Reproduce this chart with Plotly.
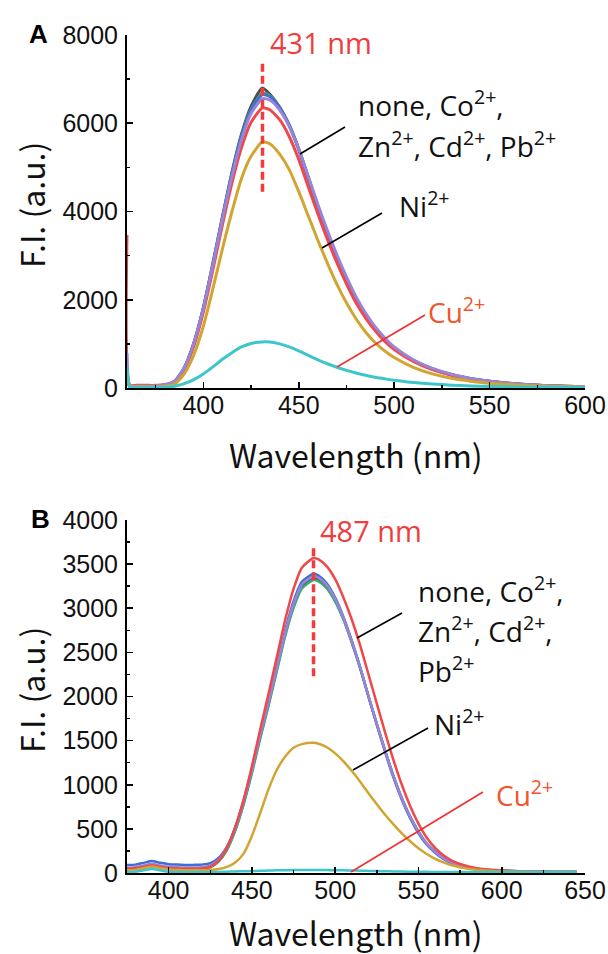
import plotly.graph_objects as go

# ---------------- data ----------------
WL_A = [360, 361.5, 365, 370, 375, 380, 385, 390, 395, 400, 405, 410, 415, 420, 425, 431,
        435, 440, 445, 450, 455, 460, 465, 470, 475, 480, 485, 490, 495, 500, 510, 520,
        530, 540, 550, 560, 570, 580, 590, 600]
GRAY_A = [200, 40, 40, 40, 45, 70, 150, 460, 1020, 1820, 2830, 3880, 4890, 5750, 6380, 6800,
          6650, 6360, 5960, 5410, 4760, 4110, 3510, 2960, 2460, 2010, 1660, 1360, 1110, 905,
          625, 432, 302, 212, 152, 106, 76, 53, 37, 26]
GREEN_A = [150, 35, 35, 35, 40, 65, 145, 445, 990, 1790, 2790, 3840, 4850, 5720, 6320, 6680,
           6620, 6360, 5960, 5420, 4780, 4130, 3530, 2980, 2480, 2030, 1670, 1370, 1120, 915,
           630, 440, 305, 215, 152, 107, 76, 53, 37, 26]
BLUE_A = [250, 40, 40, 40, 45, 70, 150, 450, 1000, 1800, 2800, 3850, 4850, 5700, 6300, 6650,
          6600, 6350, 5950, 5400, 4750, 4100, 3500, 2950, 2450, 2000, 1650, 1350, 1100, 900,
          620, 430, 300, 210, 150, 105, 75, 52, 36, 25]
RED_A = [3470, 60, 60, 60, 60, 80, 150, 430, 950, 1720, 2680, 3700, 4650, 5450, 6020, 6350,
         6300, 6080, 5700, 5180, 4560, 3950, 3370, 2840, 2360, 1930, 1590, 1300, 1060, 870,
         600, 415, 290, 205, 145, 100, 72, 50, 35, 24]
PURPLE_A = [790, 45, 45, 45, 50, 75, 160, 460, 1010, 1800, 2790, 3820, 4800, 5630, 6220, 6560,
            6520, 6300, 5930, 5410, 4790, 4160, 3570, 3020, 2520, 2070, 1700, 1390, 1140, 930,
            640, 445, 310, 218, 155, 108, 77, 54, 37, 26]
NI_A = [300, 30, 30, 30, 30, 40, 90, 320, 750, 1400, 2250, 3150, 4000, 4750, 5250, 5580,
        5530, 5300, 4950, 4450, 3900, 3350, 2830, 2350, 1930, 1570, 1270, 1030, 840, 690,
        470, 320, 220, 155, 110, 78, 55, 40, 28, 20]
CU_A = [500, 15, 10, 10, 10, 15, 40, 100, 190, 320, 480, 650, 800, 930, 1010, 1045,
        1040, 1000, 930, 840, 740, 640, 550, 470, 400, 340, 290, 245, 210, 175,
        125, 90, 65, 48, 36, 28, 22, 17, 13, 10]

WL_B = [375, 380, 385, 390, 395, 400, 405, 410, 415, 420, 425, 430, 435, 440, 445, 450,
        455, 460, 465, 470, 475, 480, 487, 490, 495, 500, 505, 510, 515, 520, 525, 530,
        535, 540, 545, 550, 555, 560, 565, 570, 580, 590, 600, 610, 620, 630, 645]
GREEN_B = [40, 45, 65, 85, 65, 50, 45, 42, 42, 45, 65, 130, 260, 480, 775, 1130, 1525, 1895,
           2290, 2685, 3005, 3225, 3320, 3305, 3225, 3075, 2870, 2610, 2320, 2000, 1690, 1385,
           1100, 850, 640, 470, 335, 245, 170, 118, 64, 38, 26, 19, 15, 12, 10]
GRAY_B = [50, 55, 75, 95, 75, 60, 55, 52, 52, 55, 75, 140, 270, 490, 790, 1150, 1545, 1915,
          2310, 2705, 3025, 3245, 3340, 3325, 3240, 3090, 2880, 2615, 2325, 2000, 1688, 1383,
          1097, 848, 637, 467, 332, 242, 169, 116, 63, 37, 26, 19, 15, 12, 10]
BLUE_B = [90, 95, 115, 135, 115, 100, 95, 92, 92, 95, 110, 170, 300, 520, 820, 1180, 1580, 1950,
          2350, 2750, 3080, 3300, 3390, 3370, 3280, 3120, 2900, 2630, 2330, 2000, 1680, 1370,
          1080, 830, 620, 450, 320, 230, 160, 110, 60, 35, 25, 18, 15, 12, 10]
PURPLE_B = [60, 65, 85, 105, 85, 70, 65, 62, 62, 65, 85, 150, 285, 505, 805, 1165, 1565, 1935,
            2330, 2725, 3050, 3270, 3360, 3345, 3260, 3105, 2890, 2625, 2330, 2005, 1690, 1385,
            1095, 845, 635, 465, 330, 240, 168, 115, 63, 37, 26, 19, 15, 12, 10]
RED_B = [50, 55, 70, 85, 70, 55, 50, 48, 48, 52, 70, 140, 285, 520, 830, 1210, 1630, 2030,
         2450, 2870, 3220, 3460, 3570, 3555, 3475, 3330, 3120, 2870, 2580, 2250, 1920, 1590,
         1280, 1000, 760, 560, 400, 285, 200, 140, 75, 42, 28, 20, 15, 12, 10]
NI_B = [30, 35, 55, 70, 55, 40, 35, 32, 32, 32, 35, 45, 70, 120, 220, 420, 680, 950,
        1170, 1320, 1420, 1460, 1475, 1465, 1425, 1355, 1265, 1155, 1035, 905, 780, 660,
        550, 450, 360, 280, 215, 160, 120, 88, 48, 28, 18, 14, 12, 11, 10]
CU_B = [10, 15, 30, 45, 30, 15, 12, 10, 10, 10, 10, 12, 15, 18, 20, 22, 25, 28,
        30, 32, 33, 34, 35, 34, 33, 32, 30, 28, 26, 24, 22, 20,
        18, 16, 15, 14, 13, 12, 12, 11, 11, 10, 10, 10, 10, 10, 10]

PEAK_A = 431
PEAK_B = 487
X_TICKS_A = [400, 450, 500, 550, 600]
X_TICKS_B = [400, 450, 500, 550, 600, 650]

# ---------------- styling ----------------
C_GRAY, C_GREEN, C_BLUE = "#4d4d4d", "#3aa874", "#3f6fd2"
C_RED, C_PURPLE, C_GOLD, C_CYAN = "#f04848", "#9b84d8", "#d2a431", "#3cc6cc"
RED_TXT, CU_TXT = "#f03c3c", "#f2542c"

W, H = 608, 954
L, R, T, Bm = 127, 23, 35, 81
PW, PH = W - L - R, H - T - Bm


def px(x):
    return (x - L) / PW


def py(y):
    return (T + PH - y) / PH


fig = go.Figure()

series_A = [(GRAY_A, C_GRAY), (GREEN_A, C_GREEN), (BLUE_A, C_BLUE), (RED_A, C_RED),
            (PURPLE_A, C_PURPLE), (NI_A, C_GOLD), (CU_A, C_CYAN)]
for vals, col in series_A:
    fig.add_trace(go.Scatter(x=WL_A, y=vals, mode="lines", xaxis="x", yaxis="y",
                             line=dict(color=col, width=3, shape="spline", smoothing=0.6),
                             showlegend=False, hoverinfo="skip"))

series_B = [(GRAY_B, C_GRAY), (GREEN_B, C_GREEN), (BLUE_B, C_BLUE), (PURPLE_B, C_PURPLE),
            (RED_B, C_RED), (NI_B, C_GOLD), (CU_B, C_CYAN)]
for vals, col in series_B:
    fig.add_trace(go.Scatter(x=WL_B, y=vals, mode="lines", xaxis="x2", yaxis="y2",
                             line=dict(color=col, width=2.5, shape="spline", smoothing=0.6),
                             showlegend=False, hoverinfo="skip"))

tickfont = dict(family="Liberation Sans, Arial, sans-serif", size=25, color="#111")
common_axis = dict(showline=True, linecolor="black", linewidth=2, showgrid=False, zeroline=False,
                   ticks="inside", ticklen=6, tickwidth=1.6, tickcolor="black",
                   tickfont=tickfont, automargin=False)
x_common = dict(common_axis, ticklabelstandoff=-6,
                minor=dict(ticks="inside", ticklen=3, tickwidth=1.4, tickcolor="black", dtick=25))

fig.update_layout(
    template="none",
    width=W, height=H, margin=dict(l=L, r=R, t=T, b=Bm, autoexpand=False),
    paper_bgcolor="white", plot_bgcolor="white", showlegend=False,
    xaxis=dict(x_common, range=[360, 600], tickvals=X_TICKS_A, anchor="y", domain=[0, 1]),
    yaxis=dict(common_axis, range=[0, 8000], dtick=2000, anchor="x",
               domain=[(T + PH - 388) / PH, 1], ticklabelstandoff=2,
               minor=dict(ticks="inside", ticklen=3, tickwidth=1.4, tickcolor="black", dtick=1000)),
    xaxis2=dict(x_common, range=[375, 650], tickvals=X_TICKS_B, anchor="y2", domain=[0, 1]),
    yaxis2=dict(common_axis, range=[0, 4000], dtick=500, anchor="x2",
                domain=[0, (T + PH - 520) / PH], ticklabelstandoff=2,
                minor=dict(ticks="inside", ticklen=3, tickwidth=1.4, tickcolor="black", dtick=250)),
)

# dashed peak markers
fig.add_shape(type="line", xref="x", yref="y", x0=PEAK_A, x1=PEAK_A, y0=4450, y1=7360,
              line=dict(color=RED_TXT, width=3.5, dash="8px,4px"))
fig.add_shape(type="line", xref="x2", yref="y2", x0=PEAK_B, x1=PEAK_B, y0=2230, y1=3690,
              line=dict(color=RED_TXT, width=3.5, dash="8px,4px"))

# leader lines (pixel positions -> paper)
leaders = [
    ((345, 127), (300, 154), "black"),
    ((382, 213), (322, 248), "black"),
    ((425, 315), (337, 367), "#f03030"),
    ((402, 613), (357, 638), "black"),
    ((428, 728), (353, 770), "black"),
    ((483, 792), (351, 872), "#f03030"),
]
for (x0, y0), (x1, y1), col in leaders:
    fig.add_shape(type="line", xref="paper", yref="paper", x0=px(x0), y0=py(y0),
                  x1=px(x1), y1=py(y1), line=dict(color=col, width=1.6))

lab_font = dict(family="Open Sans, Noto Sans, sans-serif", size=28, color="#111")
title_font = dict(family="Noto Sans CJK JP, Noto Sans, sans-serif", size=32, color="#111")


def ann(text, x, y, font, xanchor="center", yanchor="middle", angle=0):
    fig.add_annotation(text=text, xref="paper", yref="paper", x=px(x), y=py(y),
                       xanchor=xanchor, yanchor=yanchor, showarrow=False, font=font,
                       textangle=angle)


bold_font = dict(family="Liberation Sans, Arial, sans-serif", size=26, color="black")
ann("<b>A</b>", 38, 34, bold_font)
ann("<b>B</b>", 40, 519, bold_font)

ann("Wavelength (nm)", 355.5, 454, title_font)
ann("Wavelength (nm)", 355.5, 932, title_font)
ann("F.I. (a.u.)", 31, 205, title_font, angle=-90)
ann("F.I. (a.u.)", 31, 690, title_font, angle=-90)

red_font = dict(family="Open Sans, Noto Sans, sans-serif", size=29, color=RED_TXT)
ann("431 nm", 321, 43, red_font)
ann("487 nm", 371, 530, red_font)

ann("none, Co<sup>2+</sup>,", 356, 104, lab_font, xanchor="left")
ann("Zn<sup>2+</sup>, Cd<sup>2+</sup>, Pb<sup>2+</sup>", 356, 144, lab_font, xanchor="left")
ann("Ni<sup>2+</sup>", 397, 204, lab_font, xanchor="left")
ann("Cu<sup>2+</sup>", 426, 311, dict(lab_font, color=CU_TXT), xanchor="left")

ann("none, Co<sup>2+</sup>,", 416, 589, lab_font, xanchor="left")
ann("Zn<sup>2+</sup>, Cd<sup>2+</sup>,", 416, 629, lab_font, xanchor="left")
ann("Pb<sup>2+</sup>", 416, 669, lab_font, xanchor="left")
ann("Ni<sup>2+</sup>", 432, 722, lab_font, xanchor="left")
ann("Cu<sup>2+</sup>", 494, 793, dict(lab_font, color=CU_TXT), xanchor="left")

fig.write_html("out.html", config={"displayModeBar": False, "staticPlot": True},
               post_script="document.body.style.margin='0';document.body.style.padding='0';")
